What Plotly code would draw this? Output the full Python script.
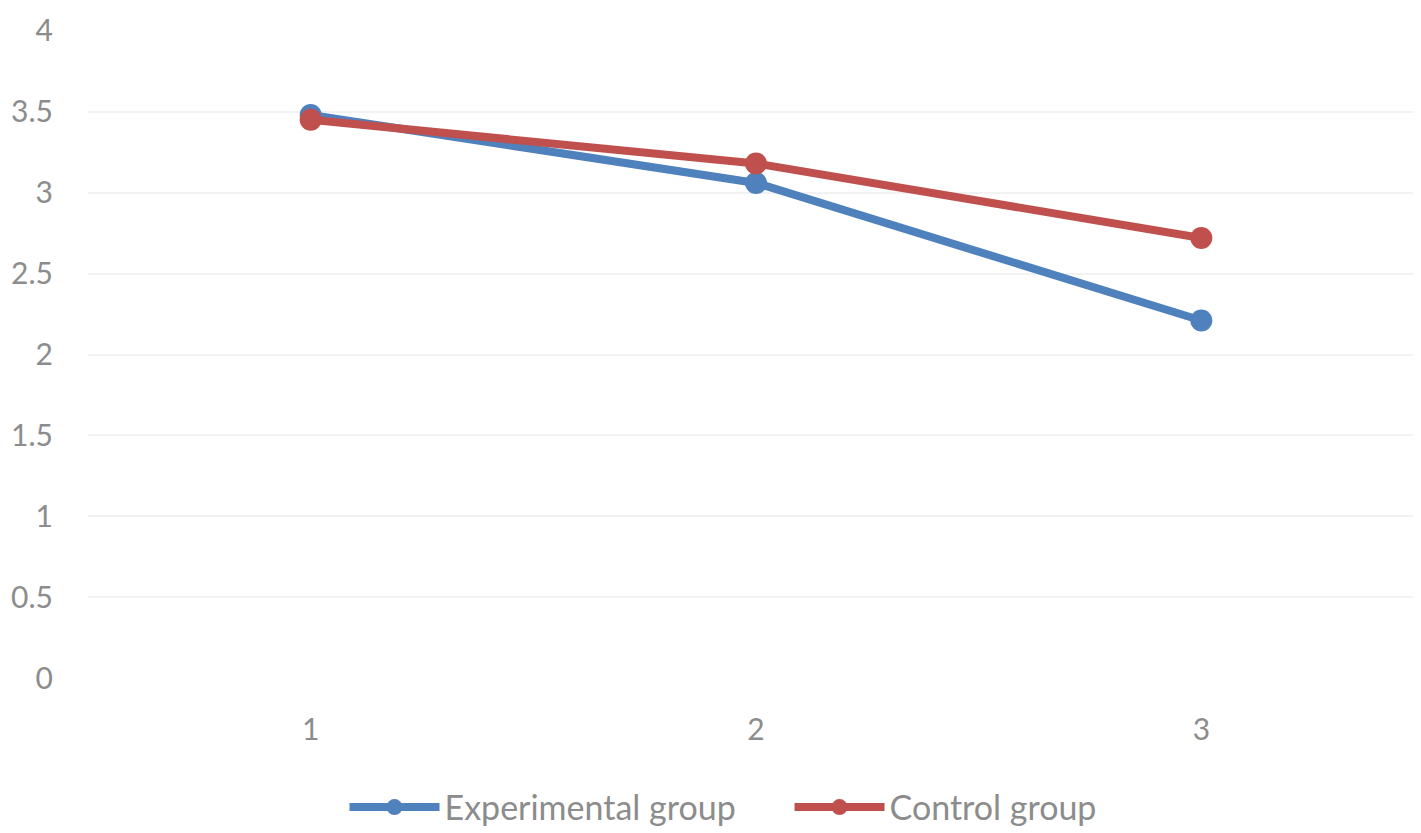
import plotly.graph_objects as go

# values
categories = ['1', '2', '3']
experimental = [3.48, 3.06, 2.21]
control = [3.45, 3.18, 2.72]
y_ticks = [0, 0.5, 1, 1.5, 2, 2.5, 3, 3.5, 4]
y_tick_labels = ['0', '0.5', '1', '1.5', '2', '2.5', '3', '3.5', '4']

FONT = 'Lato'
GREY = '#8c8c8c'

fig = go.Figure()

fig.add_trace(go.Scatter(
    x=categories,
    y=experimental,
    name='Experimental group',
    mode='lines+markers',
    line={'color': '#4f81bd', 'width': 8},
    marker={'color': '#4f81bd', 'size': 22},
))
fig.add_trace(go.Scatter(
    x=categories,
    y=control,
    name='Control group',
    mode='lines+markers',
    line={'color': '#c0504d', 'width': 8},
    marker={'color': '#c0504d', 'size': 22},
))

fig.update_layout(
    width=1421,
    height=833,
    paper_bgcolor='white',
    plot_bgcolor='white',
    margin={'l': 80, 'r': 5, 't': 22, 'b': 155},
    font={'family': FONT, 'color': GREY, 'size': 30},
    legend={
        'orientation': 'h',
        'x': 0.192,
        'xanchor': 'left',
        'y': -0.198,
        'yanchor': 'middle',
        'font': {'size': 34, 'color': GREY, 'family': FONT},
        'itemwidth': 90,
        'entrywidth': 340,
    },
    xaxis={
        'type': 'category',
        'range': [-0.5, 2.5],
        'showgrid': False,
        'showline': False,
        'ticks': 'outside',
        'tickcolor': 'white',
        'ticklen': 24,
        'tickfont': {'size': 30, 'color': GREY},
        'automargin': False,
    },
    yaxis={
        'range': [-0.005, 4.005],
        'tickvals': y_ticks,
        'ticktext': y_tick_labels,
        'showgrid': True,
        'gridcolor': '#f2f2f2',
        'gridwidth': 2,
        'zeroline': False,
        'showline': False,
        'ticks': 'outside',
        'tickcolor': 'white',
        'ticklen': 28,
        'tickfont': {'size': 30, 'color': GREY},
        'automargin': False,
    },
)

fig.write_html("out.html")
